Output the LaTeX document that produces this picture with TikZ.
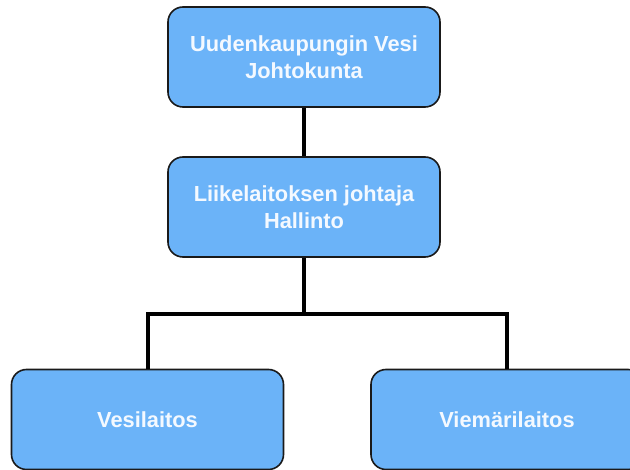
\documentclass[tikz,border=0pt]{standalone}
\usepackage{fontspec}
\setmainfont{Liberation Sans}
\definecolor{boxfill}{HTML}{6BB3F8}
\definecolor{boxtext}{HTML}{F4F9FF}
\definecolor{boxline}{HTML}{1A1A1A}
\begin{document}
\begin{tikzpicture}[x=1pt,y=-1pt,
  orgbox/.style={draw=boxline, line width=1.6pt, fill=boxfill, rounded corners=15pt,
    minimum width=272pt, minimum height=100pt, align=center, text=boxtext,
    font=\fontsize{21.8}{26.5}\selectfont\bfseries, inner sep=0pt},
  link/.style={line width=4pt, draw=black}]
\useasboundingbox (0,0) rectangle (630,470);
\node[orgbox] (top) at (304,57) {Uudenkaupungin Vesi\\Johtokunta};
\node[orgbox] (mid) at (304,207) {Liikelaitoksen johtaja\\Hallinto};
\node[orgbox] (left) at (147.5,419.5) {Vesilaitos};
\node[orgbox] (right) at (507,419.5) {Viemärilaitos};
\coordinate (j) at (304,314);
\draw[link] (top.south) -- (mid.north);
\draw[link] (mid.south) -- (j);
\draw[link] (j) -| (left.north);
\draw[link] (j) -| (right.north);
\end{tikzpicture}
\end{document}
